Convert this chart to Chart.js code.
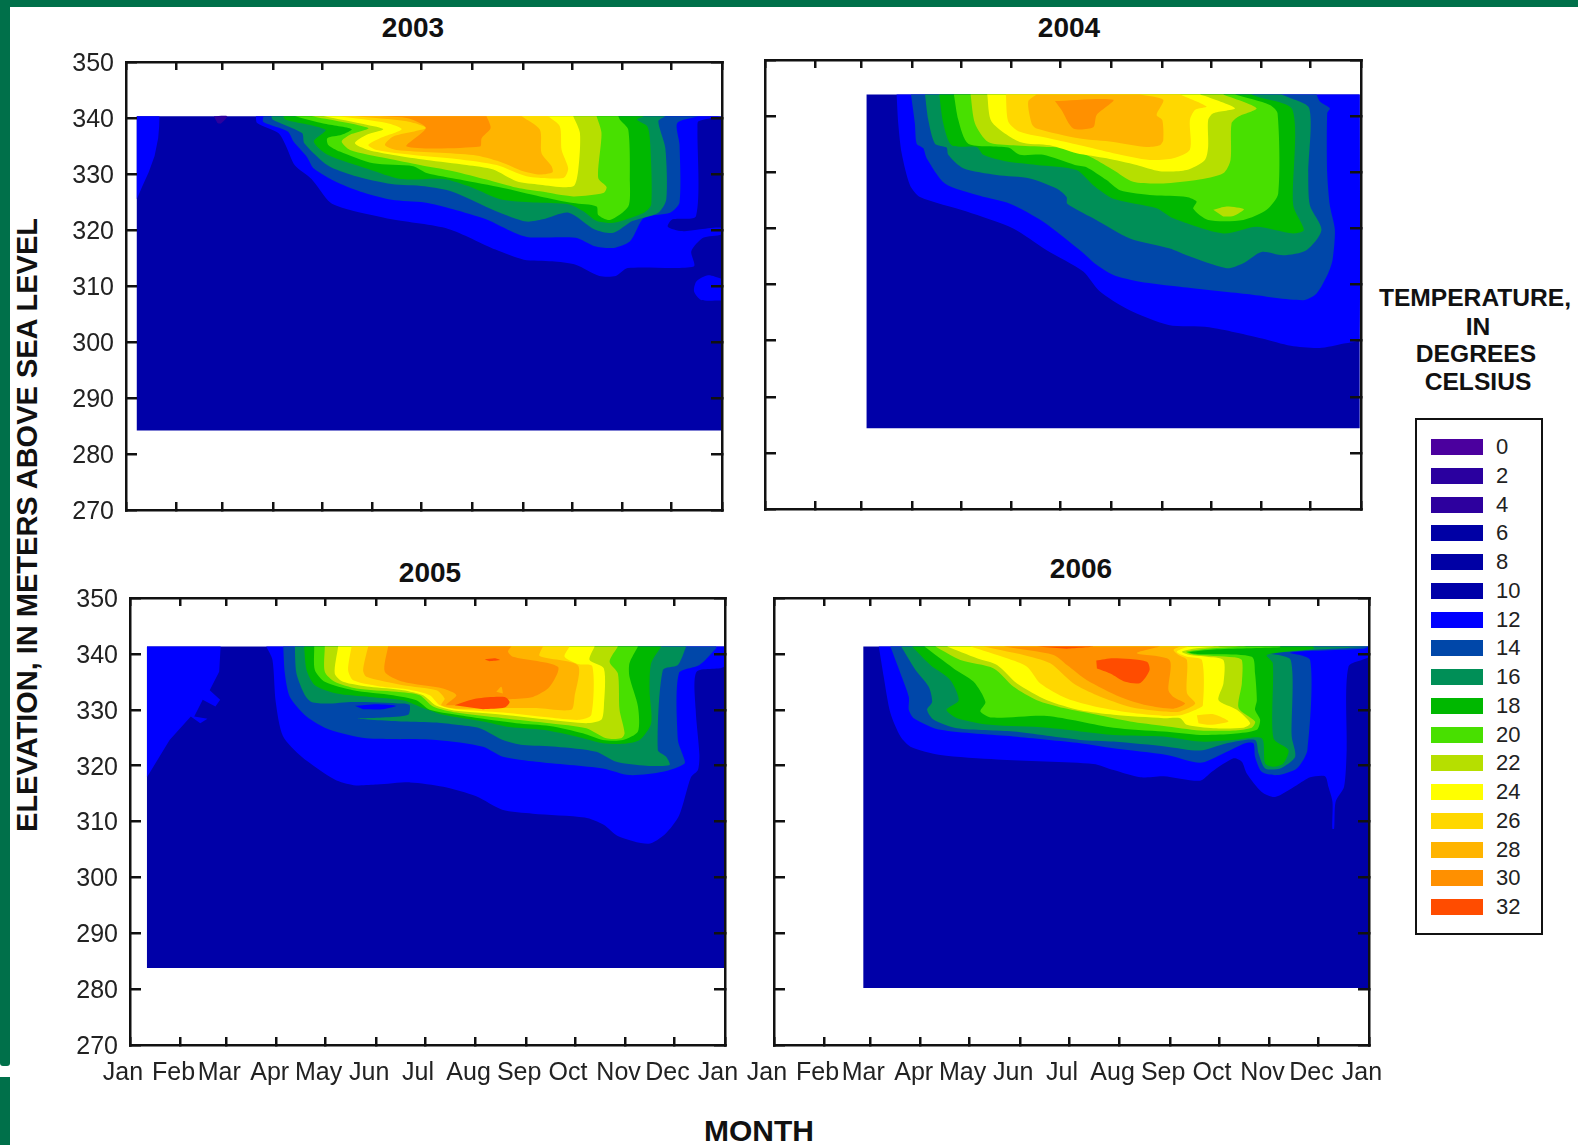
<!DOCTYPE html>
<html>
<head>
<meta charset="utf-8">
<title>Water temperature by elevation and month</title>
<script src="https://cdn.jsdelivr.net/npm/chart.js@4/dist/chart.umd.min.js"></script>
<style>
    html, body { margin: 0; padding: 0; background: #fff; }
    body { position: relative; width: 1578px; height: 1145px; overflow: hidden; font-family: "Liberation Sans", Arial, sans-serif; color: #111; }
    canvas { position: absolute; filter: blur(0.5px); }
    .bar { position: absolute; background: #00704a; }
    .txt { position: absolute; white-space: nowrap; font-weight: bold; transform: translate(-50%, -50%); }
    #yTitle { transform: translate(-50%, -50%) rotate(-90deg); }
    #legendBox { position: absolute; left: 1415px; top: 418px; width: 124px; height: 513px; border: 2.5px solid #111; }
    .swatch { position: absolute; left: 1431px; width: 52px; height: 16px; }
    .swatchLabel { position: absolute; left: 1496px; font-size: 22px; line-height: 24px; color: #222; }
</style>
</head>
<body>
<div class="bar" style="left:0;top:0;width:1578px;height:7px"></div>
<div class="bar" style="left:0;top:0;width:10px;height:1066px;border-radius:0 0 3px 3px"></div>
<div class="bar" style="left:0;top:1077px;width:10px;height:68px"></div>
<div class="txt" style="left:413px;top:28px;font-size:28px">2003</div>
<div class="txt" style="left:1069px;top:28px;font-size:28px">2004</div>
<div class="txt" style="left:430px;top:573px;font-size:28px">2005</div>
<div class="txt" style="left:1081px;top:569px;font-size:28px">2006</div>
<div class="txt" id="yTitle" style="left:27px;top:525px;font-size:29px">ELEVATION, IN METERS ABOVE SEA LEVEL</div>
<div class="txt" style="left:759px;top:1131px;font-size:30px">MONTH</div>
<div class="txt" style="left:1475px;top:298px;font-size:24.6px">TEMPERATURE,</div>
<div class="txt" style="left:1478px;top:327px;font-size:24.6px">IN</div>
<div class="txt" style="left:1476px;top:354px;font-size:24.6px">DEGREES</div>
<div class="txt" style="left:1478px;top:382px;font-size:24.6px">CELSIUS</div>
<div id="legendBox"></div>

<canvas id="chart2003"></canvas>
<canvas id="chart2004"></canvas>
<canvas id="chart2005"></canvas>
<canvas id="chart2006"></canvas>

<script>
// Axis values
const monthLabels = ['Jan', 'Feb', 'Mar', 'Apr', 'May', 'Jun', 'Jul', 'Aug', 'Sep', 'Oct', 'Nov', 'Dec', 'Jan'];
const monthStarts = [0, 31, 59, 90, 120, 151, 181, 212, 243, 273, 304, 334, 365];

// Legend
const tempLabels = [0, 2, 4, 6, 8, 10, 12, 14, 16, 18, 20, 22, 24, 26, 28, 30, 32];
const tempColors = ['#4b009e', '#2a009f', '#2d009e', '#0000a5', '#0000a5', '#0000a8', '#0000ff', '#0047a9', '#008f57', '#00b800', '#48e000', '#b6df00', '#ffff00', '#ffd800', '#ffb400', '#ff9000', '#ff4c00'];

// Isotherms, as [day of year, elevation in meters]
// 2003
const base2003 = [[6.6,340.3],[364.6,340.3],[364.6,284.2],[6.6,284.2]];
const patch4_2003 = [[53.8,340.3],[62,340.3],[58,339],[56,339.1]];
const left12_2003 = [[6.6,340.3],[20.5,340.3],[20.3,338.5],[19.7,336.4],[17.5,333.2],[13.9,330.3],[10,327.8],[6.6,325.5]];
const isle12_2003 = [[364.6,311.3],[356.5,311.9],[349.3,310.8],[347.9,309],[352.2,307.5],[364.6,307.4]];
const t12_2003 = [[79.5,340.3],[80.3,339.1],[93.3,337.3],[97.7,335.2],[103.5,331.5],[113.6,329.1],[125.1,324.9],[136.7,323.6],[162.7,321.9],[197.4,320.2],[226.3,316.5],[243.6,314.7],[261,314.4],[275.4,313.8],[289.9,311.8],[300,311.8],[307.2,313.2],[347.7,313.5],[346.2,316.2],[353.4,318.6],[364.6,319.2],[364.6,320.4],[350.6,320.1],[340.4,319.8],[331.8,320.6],[334.7,321.9],[349.1,322.5],[350,338.2],[350.6,339.4],[364.6,340.3]];
const t14_2003 = [[84.1,340.3],[84.1,339.3],[99.1,337.6],[102.6,335.8],[110.7,333.1],[115,331],[129.5,328.5],[145.4,326.7],[162.7,325.4],[182.9,324.9],[200.3,323.7],[220.5,321.9],[237.8,319.5],[246.5,318.7],[275.4,318.6],[287,317.1],[298.5,316.8],[308.7,318],[317.3,322.2],[333.2,323.1],[339,324.9],[339,335.2],[337.6,339.1],[350.6,340.3]];
const t16_2003 = [[89,340.3],[89.9,339.7],[107.8,337.3],[109.2,335.5],[123.7,331.5],[139.6,329.7],[162.7,328.2],[182.9,327.8],[200.3,326.8],[226.3,323.4],[245.1,321.5],[255.2,321.9],[271.1,323.1],[287,320.1],[298.5,319.5],[310.1,321.6],[326,323.1],[330.9,325.5],[330.3,334.6],[326,339.4],[330.3,340.3]];
const t18_2003 = [[96.2,340.3],[97.7,339.7],[122.2,337.9],[115,335.8],[123.7,333.4],[148.3,330.9],[168.5,329.1],[194.5,329.1],[211.8,327.6],[229.2,325.5],[249.4,324.9],[271.1,324.6],[279.8,323.4],[288.4,321.6],[298.5,321.3],[317.3,323.1],[321.7,324.6],[321.1,335.2],[319.3,338.5],[313,339.7],[317.3,340.3]];
const t20_2003 = [[103.5,340.3],[120.8,339],[138.2,338],[132.1,337],[123.3,336.4],[123.9,335.2],[131,334],[151.4,331.9],[175.9,331.4],[184.1,330.2],[204.5,329],[231,327.5],[253.5,326],[273.9,324.8],[288.2,324.2],[289.2,322.7],[296.4,321.8],[307.6,324.2],[308.6,328.4],[307.6,337.9],[302.5,339.7],[301.5,340.3]];
const t22_2003 = [[113.7,340.3],[148.4,338.2],[137.2,337],[132.1,335.8],[137.2,334.3],[159.6,332.8],[180,331.6],[200.4,330.5],[220.8,329],[237.2,327.7],[253.5,326.9],[273.9,326],[292.3,326.6],[294.3,327.7],[289.2,329.3],[291.2,337.3],[288.2,340.3]];
const t24_2003 = [[120.8,340.3],[147.4,338.8],[157.6,338],[147.4,337],[140.2,335.5],[148.4,334.3],[163.7,333.4],[184.1,332.5],[208.6,331.6],[224.9,330.8],[239.2,328.7],[253.5,328.1],[273.9,327.8],[277,330.8],[278,337.3],[273.9,340.3]];
const t26_2003 = [[131,340.3],[159.6,339.1],[168.8,338],[155.5,336.4],[148.4,335.2],[153.5,334.3],[175.9,333.4],[202.5,332.7],[227,331.6],[245.3,329.6],[267.8,329.3],[270.8,331],[266.8,334.3],[265.7,338.5],[258.6,340.3]];
const t28_2003 = [[140.2,340.3],[171.9,339.4],[183.7,338.2],[163.7,336.7],[158.6,335.2],[165.7,334.3],[212.7,333.4],[229,332.2],[243.3,330.5],[253.5,329.9],[261.2,330.3],[260.6,331.4],[254.5,333.7],[253.5,337.9],[242.3,340.3]];
const t30_2003 = [[145.3,340.3],[171.9,340],[183.7,338.2],[171.9,334.9],[216.8,334.9],[217.8,336.4],[223.3,338.2],[220.8,340.3]];

// 2004
const base2004 = [[62.2,343.85],[364.2,343.85],[364.2,284.4],[62.2,284.4]];
const t12_2004 = [[80.6,343.85],[81.6,338.7],[83.7,333.4],[88.8,327.7],[94.9,325.6],[123.5,323],[152,320],[172.5,316.1],[194.9,312.3],[204.6,308.9],[222.1,305.6],[247.1,302.8],[272,302.4],[304.5,300.4],[322,299.1],[339.5,298.7],[354.5,299.5],[364.2,300.4],[364.2,343.85]];
const t14_2004 = [[89.4,343.85],[91.8,338.7],[92.9,335.1],[96.9,334.3],[99,332.5],[110.2,328],[131.6,325.8],[150,324.4],[170.4,321.2],[192.9,316.1],[203.1,313.5],[213.3,311.7],[229.6,310.5],[254.1,309.6],[294.9,308.3],[329.6,307.2],[337.8,308.4],[344.9,312],[347.6,314.4],[349,319.7],[345.9,324.1],[344.3,329.8],[344.3,340.5],[345.9,341.4],[339.8,342.6],[337.8,343.85]];
const t16_2004 = [[98,343.85],[100,339.3],[104.1,335.1],[111.2,334.4],[112.2,333.1],[121.4,330.7],[141.8,329.5],[162.2,328.9],[178.6,327.1],[184.7,325.6],[185.1,324.4],[201,321.8],[223.5,318.2],[248,316.4],[258.2,315.2],[282.7,312.9],[292.9,313.8],[304.1,315.8],[317.4,315.2],[331.6,316.1],[340.8,319.7],[333.7,324.1],[332.7,329.8],[333.3,341.4],[319.4,343.5],[316.3,343.85]];
const t18_2004 = [[106.7,343.85],[109.2,338.7],[114.3,334.8],[129.6,334.5],[133.7,333.1],[148,331.9],[166.3,331.3],[190.8,330.4],[201,327.7],[213.3,325.3],[239.8,323.6],[250,321.8],[280.6,319.1],[301,320.3],[323.5,319.1],[330,319.7],[323.5,324.1],[323.1,341.1],[301,343.5],[298,343.85]];
const t20_2004 = [[115.7,343.85],[118.4,339.3],[124.5,335.1],[149,334.4],[156.1,333.1],[170.4,333.1],[189.8,331.3],[196.9,330.9],[209.2,328.6],[217.4,326.8],[237.8,325.9],[258.2,325.6],[264.3,324.8],[262.3,323.5],[271.4,321.5],[292.9,321.5],[307.2,323.3],[314.3,326.2],[313.9,340.5],[309.2,342],[287.8,343.85]];
const t22_2004 = [[125.9,343.85],[128.6,338.7],[136.7,335.4],[152,334.8],[172.5,334.5],[188.8,334.2],[201,332.5],[213.3,330.4],[225.5,328.3],[243.9,328],[264.3,328.6],[280.6,329.8],[285.1,332.2],[285.7,338.7],[289.8,339.9],[301,341.4],[280.6,343.85]];
const isle22_2004 = [[274.5,323.3],[282.7,323.9],[293.3,323.4],[286.8,322.2],[280.6,322.1]];
const t24_2004 = [[136.1,343.85],[138.8,339],[156.1,335.4],[174.5,334.8],[190.8,333.4],[209.2,332.5],[227.6,331.3],[241.8,330.2],[258.2,330.4],[269.4,332.2],[271.4,334.6],[271.4,339.3],[274.5,340.5],[287.8,341.4],[270.4,343.5],[266.3,343.85]];
const t26_2004 = [[147.5,343.85],[149,339],[156.1,337.2],[174.5,336],[192.9,334.8],[213.3,333.4],[235.7,332.2],[250,332.5],[260.2,334],[260.2,339.3],[263.3,341.1],[270.4,341.7],[254.1,343.85]];
const t28_2004 = [[166.3,343.85],[161.2,342.6],[163.3,338.7],[166.3,337.8],[192.9,336],[213.3,335.4],[233.7,334.5],[241.8,334.8],[243.9,335.7],[243.3,339.3],[239.8,340.2],[243.9,342.9],[229.6,343.85]];
const t30_2004 = [[177.6,342.7],[213.3,342.9],[203.1,340.2],[201,338],[188.8,337.8],[181.6,341.1]];

// 2005
const base2005 = [[10.4,341.3],[364.4,341.3],[364.4,283.8],[10.4,283.8]];
const left12_2005 = [[10.4,341.3],[55.6,341.3],[54.7,336.8],[48.9,333.5],[55.3,331.8],[52.4,330.6],[44.6,331.8],[39.4,328.8],[47.5,328.4],[43.1,327.6],[37.3,328.8],[24.3,324.6],[10.4,317.9]];
const t12_2005 = [[83.6,341.3],[87.4,338.9],[89.4,331.4],[93.8,325.3],[105.3,321.6],[125.6,317.5],[137.2,316.5],[151.6,316.6],[171.9,317],[192.2,316.2],[212.4,314.5],[228.3,312.1],[247.1,311.4],[279,310.7],[290.6,309.4],[299.2,307.4],[318,306],[328.2,307.7],[336.9,311.1],[344.1,317.9],[348.4,319.2],[349.3,321.9],[347,330.1],[347.6,336.8],[364.4,337.7],[364.4,341.3]];
const t14_2005 = [[94,341.3],[95,336.5],[98.1,332.3],[108.3,328.8],[122.6,326.4],[145,324.9],[188,324.6],[216.6,323.4],[228.8,321.6],[249.2,320.7],[290.1,319.5],[306.4,318.3],[326.9,318.9],[340.2,320.4],[339.1,321.9],[336.1,324.6],[336.7,336.5],[349.3,338],[359.6,341],[359.6,341.3]];
const hole12_2005 = [[137.9,330.7],[151.2,331],[163.4,330.7],[155.3,330.1],[143,330.1]];
const t16_2005 = [[101.1,341.3],[102.1,336.5],[107.3,332.6],[111.3,331.4],[120.5,331.1],[136.9,331.4],[167.5,331.1],[171.6,330.8],[170.6,329.1],[155.3,328.6],[140,328.4],[167.5,327.9],[188,327.7],[200.2,327.3],[214.5,326.7],[228.8,324.6],[241.1,323.7],[261.5,323.4],[286,322.5],[298.3,320.7],[316.7,320],[331,320.1],[328.9,321.6],[323.8,322.8],[326.9,337.1],[336.1,338],[341.2,341.3]];
const t18_2005 = [[106.8,341.3],[108.3,337.1],[113.4,334.4],[126.7,332.9],[147.1,332.3],[167.5,331.7],[179.8,330.3],[192,329.1],[216.6,327.9],[232.9,326.9],[253.3,326.4],[273.8,325.2],[290.1,324],[302.4,323.9],[312.6,324.6],[319.7,327.6],[318.7,333.5],[319.7,338.3],[325.9,341.3]];
const t20_2005 = [[113,341.3],[113.4,337.1],[119.5,335],[136.9,333.5],[161.4,332.6],[175.7,331.7],[183.9,330],[200.2,329.1],[218.6,328.3],[237,327.6],[257.4,327.1],[277.8,325.8],[290.1,324.6],[302.4,324.6],[311.6,326.1],[311.6,330.6],[306.4,335.9],[306.4,338.3],[311.6,341.3]];
const t22_2005 = [[119.5,341.3],[119.5,336.8],[125.6,335],[138.9,333.8],[163.4,333.2],[177.7,332.6],[185.9,330.6],[200.2,329.5],[228.8,328.5],[257.4,327.6],[279.9,326.7],[292.1,324.9],[301.3,324.9],[303.4,325.8],[300.3,330],[299.3,336.5],[294.2,338.6],[299.3,341.3]];
const t24_2005 = [[127.7,341.3],[125.6,336.5],[130.7,335],[147.1,334.1],[167.5,333.5],[179.8,332.6],[188,330.7],[200.2,329.8],[228.8,329.1],[257.4,328.2],[279.9,327.6],[289.1,328.2],[290.7,330.6],[290.7,337.4],[281.9,338.9],[285,341.3]];
const t26_2005 = [[135.9,341.3],[133.8,337.1],[136.9,335.3],[155.3,334.1],[171.6,333.6],[183.9,332.6],[190,330.8],[200.2,330.1],[228.8,329.5],[257.4,328.6],[275.8,328.2],[283,329.1],[283.6,337.8],[274.8,338.2],[266.6,339.5],[269.7,341.3]];
const t28_2005 = [[146.1,341.3],[143,337.1],[145,335.9],[167.5,334.4],[188,333.5],[193,332],[191,330.8],[200.2,330.2],[232.9,330.3],[249.2,330.3],[270.7,330],[272.7,332.3],[274.8,337.9],[251.3,339.6],[253.3,341.3]];
const t30_2005 = [[158.3,341.3],[156.3,336.8],[167.5,335],[192,333.8],[200.2,332.6],[194.1,330.8],[232.9,331.9],[247.2,332.3],[257.4,334.1],[262.5,337.7],[234.9,339.5],[231.9,340.4],[233.9,341.3]];
const speck28_2005 = [[224.7,333.2],[227.8,334.1],[228.8,332.9]];
const t32_2005 = [[199.2,330.8],[212.5,332],[229.8,332.3],[232.9,331.4],[229.8,330.4],[216.6,330.1]];
const speck32_2005 = [[217.6,339],[223.7,339.2],[226.8,338.9],[220.6,338.7]];

// 2006
const base2006 = [[54.8,341.3],[365,341.3],[365,280.2],[54.8,280.2]];
const t12_2006 = [[64.3,341.3],[67.3,335.9],[71.4,329.4],[77.6,325.2],[83.7,323.4],[102.1,321.9],[136.8,321.1],[196,320.3],[208.3,319.2],[224.7,317.9],[239,318.1],[261.4,317.3],[268.6,318.9],[281.9,321.3],[287,320.7],[290,318.6],[299.2,315.3],[307.4,314.4],[320.7,316.5],[328.9,317.9],[338,318.1],[340.1,316.2],[342.6,313.5],[342.5,308.7],[343.6,308.7],[344.5,313.5],[349.7,316.2],[351.3,322.8],[352.4,337.7],[365,339.5],[365,341.3]];
const t14_2006 = [[71.4,341.3],[77.6,336.5],[82.7,332.3],[82.7,330],[85.7,328.5],[102.1,326.4],[147,325.2],[187.9,324],[208.3,323.1],[241,321.9],[261.4,320.5],[273.7,321.9],[289,324],[294.1,324],[295.1,321.6],[299.2,318.9],[308.4,318.3],[320.7,319.5],[327.2,322.8],[328.9,338.9],[316.6,340.2],[361.5,340.9],[365,341.3]];
const t16_2006 = [[78,341.3],[86.8,337.1],[94.9,334.1],[97,331.4],[93.9,330],[98,328.2],[112.3,326.7],[147,326.1],[187.9,324.6],[208.3,324.3],[241,323.4],[261.4,322.7],[277.8,324],[295.1,324.6],[297.2,322.2],[301.3,319.5],[310.5,319.5],[319.7,321.6],[317.6,325.2],[317,338.9],[304.3,340.1],[359.5,341.2],[364.6,341.3]];
const t18_2006 = [[84.7,341.3],[95.9,338],[108.2,335.3],[113.3,331.7],[105.8,330],[112.3,328.5],[132.7,327.3],[167.5,326.8],[208.3,325.5],[239,325.2],[261.4,324.3],[281.9,324.6],[299.2,324.9],[301.3,320.4],[306.4,319.8],[312.5,320.4],[315.6,322.8],[306.4,324.9],[306,338.3],[302.3,339.8],[330.9,340.9],[330.9,341.3]];
const t20_2006 = [[92.3,341.3],[110.2,337.4],[122.5,335],[129.7,331.4],[126.6,329.7],[133.7,328.6],[167.5,328.9],[208.3,326.8],[239,326.1],[261.4,325.5],[281.9,325.7],[296.2,326.4],[298.2,328.2],[295.1,330],[296.2,331.7],[295.1,336.5],[293.1,339.5],[259.4,340],[254.3,340.3],[269.6,340.8],[310.5,341.2],[310.5,341.3]];
const t22_2006 = [[99,341.3],[114.3,338.9],[134.8,337.4],[147,334.1],[161.3,331.7],[177.7,330.3],[198.1,329.1],[218.5,327.9],[239,327.1],[261.4,326.3],[281.9,326.3],[293.1,326.8],[295.1,327.9],[285,330.3],[287,334.7],[287,338.9],[281.9,339.4],[257.4,339.9],[252.9,340.4],[269.6,341],[290,341.3]];
const t24_2006 = [[106.2,341.3],[124.5,339.2],[136.8,338],[149.1,334.7],[167.5,331.7],[187.9,329.9],[208.3,329.1],[239,328.5],[249.2,328.5],[253.3,327.3],[269.6,326.7],[288,326.8],[292.1,327.6],[283.9,330],[272.7,331.7],[275.7,334.7],[275.7,338.9],[265.5,339.5],[255.3,339.8],[250.2,340.4],[259.4,341],[273.7,341.3]];
const t26_2006 = [[120.5,341.3],[142.9,339.2],[155.2,337.7],[163.4,334.7],[179.7,332],[198.1,330.5],[220.6,329.4],[239,328.9],[249.2,329],[259.4,330.1],[263.1,330.8],[262.5,338.9],[253.3,339.5],[247.1,340.4],[253.3,341.2],[261.4,341.3]];
const isle26_2006 = [[259.4,329],[269.6,329.2],[278.8,327.9],[267.6,327.3],[260.4,327.6]];
const t28_2006 = [[128.6,341.3],[157.2,339.5],[169.5,338.3],[183.8,334.7],[198.1,332.6],[218.5,330.5],[239,329.7],[249.2,329.7],[258.4,331.1],[253.3,333],[253.3,338.9],[248.2,339.8],[245.1,340.7],[249.2,341.3]];
const t30_2006 = [[140.9,341.3],[171.5,339.8],[179.7,338],[192,335.3],[212.4,332.3],[228.7,330.8],[245.1,330.2],[252.2,331.1],[245.1,332.3],[242,333.5],[242.6,338.9],[222.6,340.1],[236.9,341.3]];
const t32_2006 = [[197.7,338.8],[208.3,339.2],[228.7,338.6],[230.4,337.1],[224.7,334.8],[215.5,335],[206.3,336.5],[198.1,337.4]];
const strip32_2006 = [[161.3,341.3],[196,341.3],[179.7,340.9]];

// Draw order, bottom first: [temperature, outline]
const layers2003 = [[10,base2003],[4,patch4_2003],[12,left12_2003],[12,isle12_2003],[12,t12_2003],[14,t14_2003],[16,t16_2003],[18,t18_2003],[20,t20_2003],[22,t22_2003],[24,t24_2003],[26,t26_2003],[28,t28_2003],[30,t30_2003]];
const layers2004 = [[10,base2004],[12,t12_2004],[14,t14_2004],[16,t16_2004],[18,t18_2004],[20,t20_2004],[22,isle22_2004],[22,t22_2004],[24,t24_2004],[26,t26_2004],[28,t28_2004],[30,t30_2004]];
const layers2005 = [[10,base2005],[12,left12_2005],[12,t12_2005],[14,t14_2005],[12,hole12_2005],[16,t16_2005],[18,t18_2005],[20,t20_2005],[22,t22_2005],[24,t24_2005],[26,t26_2005],[28,t28_2005],[30,t30_2005],[28,speck28_2005],[32,t32_2005],[32,speck32_2005]];
const layers2006 = [[10,base2006],[12,t12_2006],[14,t14_2006],[16,t16_2006],[18,t18_2006],[20,t20_2006],[22,t22_2006],[24,t24_2006],[26,t26_2006],[26,isle26_2006],[28,t28_2006],[30,t30_2006],[32,t32_2006],[32,strip32_2006]];

// these keep straight edges, a curve would bulge over the top of the water column
const straightOutlines = [base2003, base2004, base2005, base2006, left12_2003, left12_2005];

// room around each plot, large enough for the padding Chart.js asks for
const MARGIN = { left: 70, right: 50, top: 40, bottom: 50 };
const TICK_COLOR = '#111';

function colorFor(temp) {
    return tempColors[tempLabels.indexOf(temp)];
}

function setMonthTicks(scale) {
    scale.ticks = monthStarts.map(v => ({ value: v }));
}

function frameScale(extra) {
    return Object.assign({
        border: { color: TICK_COLOR, width: 2.5, z: 2 },
        grid: { drawOnChartArea: false, color: TICK_COLOR, lineWidth: 2.5, z: 1 }
    }, extra);
}

function drawPanel(id, box, layers, showX, showY) {
    const canvas = document.getElementById(id);
    canvas.width = box.right - box.left + MARGIN.left + MARGIN.right;
    canvas.height = box.bottom - box.top + MARGIN.top + MARGIN.bottom;
    canvas.style.left = (box.left - MARGIN.left) + 'px';
    canvas.style.top = (box.top - MARGIN.top) + 'px';

    // first dataset is drawn on top, so the hottest band goes first
    const datasets = layers.slice().reverse().map(layer => ({
        data: layer[1].map(p => ({ x: p[0], y: p[1] })),
        backgroundColor: colorFor(layer[0]),
        showLine: true,
        fill: 'shape',
        borderWidth: 0,
        pointRadius: 0,
        tension: straightOutlines.includes(layer[1]) ? 0 : 0.25
    }));

    new Chart(canvas, {
        type: 'scatter',
        data: { datasets: datasets },
        options: {
            responsive: false,
            animation: false,
            events: [],
            plugins: { legend: { display: false }, tooltip: { enabled: false } },
            layout: { padding: 0 },
            scales: {
                x: frameScale({
                    type: 'linear', position: 'bottom', min: 0, max: 365,
                    grid: { drawOnChartArea: false, color: TICK_COLOR, lineWidth: 2.5, z: 1, tickLength: -8 },
                    ticks: {
                        display: showX, autoSkip: false, maxRotation: 0, minRotation: 0, padding: 21, labelOffset: -7,
                        color: '#222', font: { family: '"Liberation Sans"', size: 25 },
                        callback: (v, i) => monthLabels[i]
                    },
                    afterBuildTicks: setMonthTicks,
                    afterFit: s => { s.height = MARGIN.bottom; }
                }),
                x2: frameScale({
                    type: 'linear', position: 'top', min: 0, max: 365,
                    grid: { drawOnChartArea: false, color: TICK_COLOR, lineWidth: 2.5, z: 1, tickLength: -8 },
                    ticks: { display: false },
                    afterBuildTicks: setMonthTicks,
                    afterFit: s => { s.height = MARGIN.top; }
                }),
                y: frameScale({
                    type: 'linear', position: 'left', min: 270, max: 350,
                    grid: { drawOnChartArea: false, color: TICK_COLOR, lineWidth: 2.5, z: 1, tickLength: -11 },
                    ticks: {
                        display: showY, stepSize: 10, padding: 23, labelOffset: 2,
                        color: '#222', font: { family: '"Liberation Sans"', size: 25 }
                    },
                    afterFit: s => { s.width = MARGIN.left; }
                }),
                y2: frameScale({
                    type: 'linear', position: 'right', min: 270, max: 350,
                    grid: { drawOnChartArea: false, color: TICK_COLOR, lineWidth: 2.5, z: 1, tickLength: -11 },
                    ticks: { display: false, stepSize: 10 },
                    afterFit: s => { s.width = MARGIN.right; }
                })
            }
        }
    });
}

function drawLegend() {
    tempLabels.forEach((temp, i) => {
        const y = 447 + i * 28.75;
        const swatch = document.createElement('div');
        swatch.className = 'swatch';
        swatch.style.top = (y - 8) + 'px';
        swatch.style.background = tempColors[i];
        document.body.appendChild(swatch);

        const label = document.createElement('div');
        label.className = 'swatchLabel';
        label.style.top = (y - 12) + 'px';
        label.textContent = temp;
        document.body.appendChild(label);
    });
}

document.addEventListener('DOMContentLoaded', function () {
    drawPanel('chart2003', { left: 126, right: 722, top: 62, bottom: 510 }, layers2003, false, true);
    drawPanel('chart2004', { left: 765, right: 1361, top: 60, bottom: 509 }, layers2004, false, false);
    drawPanel('chart2005', { left: 130, right: 725, top: 598, bottom: 1045 }, layers2005, true, true);
    drawPanel('chart2006', { left: 774, right: 1369, top: 598, bottom: 1045 }, layers2006, true, false);
    drawLegend();
});
</script>
</body>
</html>
